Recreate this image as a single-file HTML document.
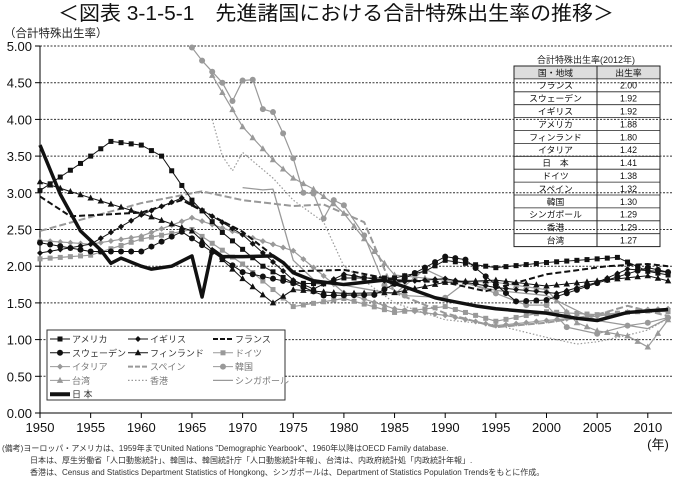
<!DOCTYPE html>
<html><head><meta charset="utf-8"><style>
body{margin:0;background:#fff;width:673px;height:478px;overflow:hidden;font-family:"Liberation Sans","Noto Sans CJK JP",sans-serif}
svg text{font-family:"Liberation Sans","Noto Sans CJK JP",sans-serif}
</style></head><body>
<svg id="s" width="673" height="478" xmlns="http://www.w3.org/2000/svg">
<text x="336" y="20" font-size="20" text-anchor="middle" fill="#111" textLength="556" lengthAdjust="spacingAndGlyphs">＜図表 3-1-5-1　先進諸国における合計特殊出生率の推移＞</text>
<text x="4" y="37" font-size="11.5" fill="#222">（合計特殊出生率）</text>
</svg>
<script>
const s=document.getElementById('s');const NS='http://www.w3.org/2000/svg';
function el(t,a,txt){const e=document.createElementNS(NS,t);for(const k in a)e.setAttribute(k,a[k]);if(txt!=null)e.textContent=txt;s.appendChild(e);return e;}
const X=y=>40+(y-1950)*10.13, Y=v=>413-v*73.4;
for(let i=0;i<=10;i++){const v=i*0.5,y=Y(v);
 if(i>0)el('line',{x1:40,x2:672,y1:y,y2:y,stroke:'#333','stroke-width':1,'stroke-dasharray':'2,1.5'});
 el('line',{x1:35,x2:40,y1:y,y2:y,stroke:'#000'});
 el('text',{x:32,y:y+5,'font-size':13,'text-anchor':'end',fill:'#111'},v.toFixed(2));}
el('line',{x1:40,x2:40,y1:46,y2:413,stroke:'#000'});
el('line',{x1:40,x2:672,y1:413,y2:413,stroke:'#000'});
for(let yr=1950;yr<=2010;yr+=5){el('line',{x1:X(yr),x2:X(yr),y1:413,y2:418,stroke:'#000'});
 el('text',{x:X(yr),y:432,'font-size':13,'text-anchor':'middle',fill:'#111'},yr);}
el('text',{x:658,y:449,'font-size':13,'text-anchor':'middle',fill:'#111'},'(年)');
function interp(pts){const o=[];for(let i=0;i<pts.length-1;i++){const[a,va]=pts[i],[b,vb]=pts[i+1];for(let y=a;y<b;y++)o.push([y,va+(vb-va)*(y-a)/(b-a)]);}o.push(pts[pts.length-1]);return o;}
function series(raw,col,w,dash,mk,full){const p=full?raw:interp(raw);
 el('polyline',{points:p.map(q=>X(q[0])+','+Y(q[1])).join(' '),fill:'none',stroke:col,'stroke-width':w,'stroke-dasharray':dash||'','stroke-linejoin':'round'});
 if(mk)p.forEach(q=>marker(mk,X(q[0]),Y(q[1]),col));}
function marker(m,x,y,c){if(m=='s')el('rect',{x:x-2.5,y:y-2.5,width:5,height:5,fill:c});
 else if(m=='c')el('circle',{cx:x,cy:y,r:3,fill:c});
 else if(m=='d')el('polygon',{points:`${x},${y-3} ${x+3},${y} ${x},${y+3} ${x-3},${y}`,fill:c});
 else if(m=='t')el('polygon',{points:`${x},${y-3.5} ${x+3.2},${y+2.5} ${x-3.2},${y+2.5}`,fill:c});}
const G='#999',K='#111';
series([[1950,2.1],[1955,2.15],[1960,2.37],[1965,2.5],[1970,2.03],[1975,1.45],[1980,1.56],[1985,1.37],[1990,1.45],[1995,1.25],[2000,1.38],[2005,1.34],[2010,1.39],[2012,1.38]],G,1.2,'','s');
series([[1950,2.35],[1955,2.3],[1960,2.41],[1965,2.66],[1970,2.43],[1975,2.21],[1980,1.64],[1985,1.42],[1990,1.33],[1995,1.19],[2000,1.26],[2005,1.32],[2010,1.41],[2012,1.42]],G,1.2,'','d');
series([[1950,2.48],[1960,2.86],[1966,3.02],[1970,2.9],[1975,2.82],[1978,2.84],[1982,2.6],[1985,1.64],[1990,1.36],[1995,1.17],[2000,1.23],[2005,1.34],[2008,1.46],[2012,1.32]],G,2,'7,3');
series([[1967,4.0],[1968,3.5],[1969,3.3],[1970,3.55],[1973,3.2],[1975,2.9],[1978,2.6],[1980,2.0],[1985,1.5],[1990,1.27],[1995,1.2],[2000,1.03],[2003,0.94],[2005,0.97],[2008,1.06],[2010,1.13],[2012,1.29]],G,1.2,'1.5,2');
series([[1970,3.07],[1972,3.04],[1973,3.05],[1975,2.08],[1977,1.82],[1980,1.74],[1985,1.62],[1988,1.96],[1990,1.83],[1995,1.67],[2000,1.6],[2005,1.26],[2010,1.15],[2012,1.29]],G,1.3);
series([[1967,4.6],[1970,3.9],[1973,3.45],[1975,3.2],[1977,3.05],[1979,2.85],[1980,2.72],[1983,2.2],[1985,1.88],[1990,1.81],[1995,1.78],[2000,1.68],[2003,1.23],[2005,1.12],[2008,1.05],[2010,0.9],[2012,1.27]],G,1.2,'','t');
series([[1965,4.98],[1966,4.8],[1967,4.65],[1968,4.5],[1969,4.25],[1970,4.53],[1971,4.54],[1972,4.14],[1973,4.1],[1974,3.81],[1975,3.47],[1976,3.0],[1977,2.99],[1978,2.65],[1979,2.9],[1980,2.83],[1982,2.42],[1984,1.74],[1986,1.6],[1990,1.57],[1992,1.78],[1995,1.63],[1998,1.47],[2000,1.47],[2002,1.17],[2005,1.08],[2008,1.19],[2010,1.23],[2012,1.30]],G,1.2,'','c',true);
series([[1950,3.03],[1954,3.4],[1957,3.7],[1960,3.65],[1962,3.5],[1965,2.9],[1968,2.46],[1972,2.0],[1975,1.77],[1978,1.76],[1980,1.84],[1985,1.84],[1988,1.93],[1990,2.08],[1995,1.98],[2000,2.05],[2007,2.12],[2010,1.93],[2012,1.88]],K,1,'','s');
series([[1950,2.18],[1955,2.3],[1960,2.7],[1964,2.93],[1970,2.43],[1975,1.81],[1977,1.69],[1980,1.89],[1985,1.78],[1990,1.83],[1995,1.71],[2001,1.63],[2005,1.78],[2008,1.96],[2012,1.92]],K,1,'','d');
series([[1950,2.95],[1953,2.68],[1960,2.73],[1964,2.9],[1970,2.47],[1975,1.93],[1980,1.95],[1985,1.81],[1990,1.78],[1994,1.66],[2000,1.89],[2006,2.0],[2010,2.03],[2012,2.0]],K,2,'6,3');
series([[1950,2.32],[1955,2.2],[1960,2.2],[1964,2.47],[1970,1.92],[1975,1.77],[1978,1.6],[1983,1.61],[1990,2.13],[1992,2.09],[1997,1.52],[2000,1.54],[2005,1.77],[2010,1.98],[2012,1.92]],K,1,'','c');
series([[1950,3.15],[1955,2.93],[1960,2.72],[1965,2.48],[1970,1.83],[1973,1.5],[1975,1.68],[1980,1.63],[1985,1.64],[1990,1.78],[1995,1.81],[2000,1.73],[2005,1.8],[2010,1.87],[2012,1.80]],K,1,'','t');
series([[1950,3.65],[1952,2.98],[1954,2.48],[1956,2.22],[1957,2.04],[1958,2.11],[1960,2.0],[1961,1.96],[1963,2.0],[1965,2.14],[1966,1.58],[1967,2.23],[1968,2.13],[1970,2.13],[1973,2.14],[1974,2.05],[1975,1.91],[1977,1.80],[1980,1.75],[1984,1.81],[1986,1.72],[1989,1.57],[1990,1.54],[1993,1.46],[1995,1.42],[2000,1.36],[2003,1.29],[2005,1.26],[2008,1.37],[2012,1.41]],K,3.5,'','',true);
el('rect',{x:47,y:330,width:238,height:70,fill:'#fff',stroke:'#333'});
const L=[['アメリカ',K,1,'','s'],['イギリス',K,1,'','d'],['フランス',K,2,'5,2',''],
['スウェーデン',K,1,'','c'],['フィンランド',K,1,'','t'],['ドイツ',G,1,'','s'],
['イタリア',G,1,'','d'],['スペイン',G,2,'5,2',''],['韓国',G,1,'','c'],
['台湾',G,1,'','t'],['香港',G,1.2,'1.5,2',''],['シンガポール',G,1.2,'',''],['日 本',K,4,'','']];
const cols=[50,128,213];
L.forEach((l,i)=>{const cx=cols[i%3],cy=339+Math.floor(i/3)*13.8;
 el('line',{x1:cx,x2:cx+20,y1:cy,y2:cy,stroke:l[1],'stroke-width':l[2],'stroke-dasharray':l[3]});
 if(l[4])marker(l[4],cx+10,cy,l[1]);
 el('text',{x:cx+22,y:cy+3.5,'font-size':9,fill:l[1]==K?'#333':'#777'},l[0]);});
el('text',{x:586,y:63,'font-size':9,'text-anchor':'middle',fill:'#222'},'合計特殊出生率(2012年)');
const T=[['国・地域','出生率'],['フランス','2.00'],['スウェーデン','1.92'],['イギリス','1.92'],['アメリカ','1.88'],['フィンランド','1.80'],['イタリア','1.42'],['日　本','1.41'],['ドイツ','1.38'],['スペイン','1.32'],['韓国','1.30'],['シンガポール','1.29'],['香港','1.29'],['台湾','1.27']];
const tx=514,tw=146,cw=[83,63],rh=12.9,ty=66;
el('rect',{x:tx,y:ty,width:tw,height:rh,fill:'#ddd'});
el('rect',{x:tx,y:ty,width:tw,height:rh*14,fill:'none',stroke:'#222'});
el('line',{x1:tx+cw[0],x2:tx+cw[0],y1:ty,y2:ty+rh*14,stroke:'#222'});
T.forEach((r,i)=>{const y=ty+i*rh;if(i>0)el('line',{x1:tx,x2:tx+tw,y1:y,y2:y,stroke:'#222',"stroke-width":0.8});
 el('text',{x:tx+cw[0]/2,y:y+9.8,'font-size':8.8,'text-anchor':'middle',fill:'#111'},r[0]);
 el('text',{x:tx+cw[0]+cw[1]/2,y:y+9.8,'font-size':8.8,'text-anchor':'middle',fill:'#111'},r[1]);});
[['(備考)ヨーロッパ・アメリカは、1959年までUnited Nations "Demographic Yearbook"、1960年以降はOECD Family database.',2],
['日本は、厚生労働省「人口動態統計」、韓国は、韓国統計庁「人口動態統計年報」、台湾は、内政府統計処「内政統計年報」.',30],
['香港は、Census and Statistics Department Statistics of Hongkong、シンガポールは、Department of Statistics Population Trendsをもとに作成。',30]]
.forEach((n,i)=>el('text',{x:n[1],y:451+i*12,'font-size':8,fill:'#333'},n[0]));
</script>
</body></html>
